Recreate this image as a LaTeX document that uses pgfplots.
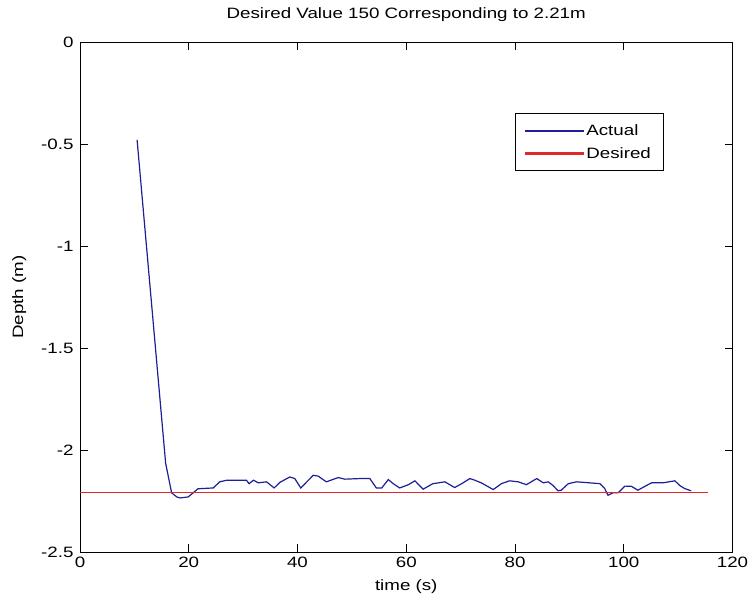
\documentclass[border=0pt]{standalone}
\usepackage{fontspec}
\setmainfont{Liberation Sans}[FakeStretch=1.25]
\usepackage{pgfplots}
\pgfplotsset{compat=1.18}
\definecolor{mblue}{RGB}{30,30,150}
\definecolor{mred}{RGB}{225,40,40}
\newcommand{\f}{\fontsize{15}{17}\selectfont}
\begin{document}
\begin{tikzpicture}
\useasboundingbox (-80pt,-54pt) rectangle (675pt,552pt);
\begin{axis}[
  at={(0pt,0pt)}, anchor=south west,
  scale only axis, width=652.5pt, height=510pt,
  xmin=0, xmax=120, ymin=-2.5, ymax=0,
  xtick={0,20,...,120}, ytick={-2.5,-2,-1.5,-1,-0.5,0},
  tick align=inside, major tick length=8pt,
  tick style={black, line width=0.8pt},
  axis line style={line width=0.8pt},
  /pgf/number format/assume math mode=true,
  ticklabel style={font=\f},
  xticklabel style={yshift=-1pt},
  yticklabel style={xshift=-3pt},
  title={Desired Value 150 Corresponding to 2.21m},
  title style={font=\f, at={(0.5,1)}, anchor=base, yshift=17pt},
  xlabel={time (s)}, ylabel={Depth (m)},
  xlabel style={font=\f, yshift=-6pt},
  ylabel style={font=\f, yshift=8pt},
  legend style={at={(0.894,0.860)}, anchor=north east, draw=black, line width=0.8pt,
    font=\f, cells={anchor=west}, inner xsep=10pt, inner ysep=9pt, row sep=6pt},
]
\addplot[draw=mblue, line width=1.2pt,
  legend image code/.code={\fill[mblue] (0pt,-0.65pt) rectangle (58pt,0.65pt);}] coordinates {
(10.5,-0.48) (15.75,-2.065) (16.85,-2.21) (17.8,-2.23) (18.4,-2.235) (19.9,-2.23)
(20.8,-2.21) (21.7,-2.19) (24.5,-2.186) (25.7,-2.156) (27.0,-2.148) (30.6,-2.148)
(31.1,-2.165) (31.9,-2.148) (32.8,-2.161) (34.3,-2.156) (35.7,-2.186) (36.8,-2.158)
(38.6,-2.132) (39.5,-2.140) (40.6,-2.186) (42.9,-2.124) (43.8,-2.128) (45.3,-2.156)
(47.5,-2.135) (48.7,-2.143) (51.5,-2.140) (53.3,-2.140) (54.5,-2.186) (55.5,-2.186)
(56.7,-2.145) (57.6,-2.165) (58.8,-2.186) (60.4,-2.170) (61.6,-2.151) (63.1,-2.192)
(64.9,-2.165) (66.2,-2.160) (67.1,-2.156) (68.9,-2.184) (70.2,-2.165) (71.7,-2.140)
(72.6,-2.148) (73.8,-2.161) (76.0,-2.194) (77.5,-2.165) (79.0,-2.151) (80.6,-2.156)
(82.1,-2.170) (84.0,-2.140) (85.2,-2.161) (86.1,-2.156) (87.0,-2.174) (87.9,-2.200)
(88.5,-2.197) (89.8,-2.165) (91.3,-2.156) (93.75,-2.161) (95.6,-2.165) (96.5,-2.189)
(97.1,-2.222) (98.0,-2.210) (99.0,-2.209) (100.2,-2.177) (101.4,-2.178) (102.6,-2.197)
(103.9,-2.178) (105.1,-2.161) (107.2,-2.161) (109.4,-2.151) (110.3,-2.174) (111.2,-2.189)
(112.4,-2.200)
};
\addlegendentry{Actual}
\addplot[draw=mred, line width=1.2pt,
  legend image code/.code={\fill[mred] (0pt,-0.65pt) rectangle (58pt,0.65pt);}] coordinates {(0,-2.21) (115.5,-2.21)};
\addlegendentry{Desired}
\end{axis}
\end{tikzpicture}
\end{document}
